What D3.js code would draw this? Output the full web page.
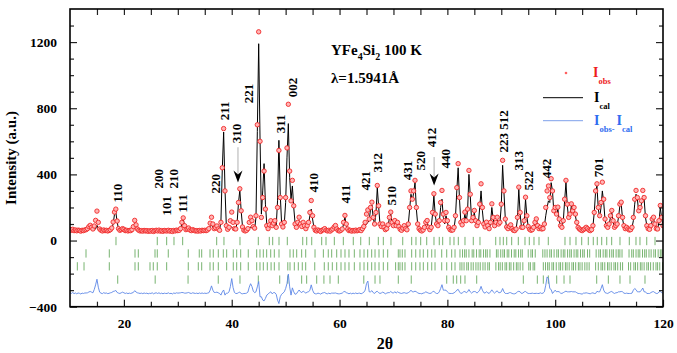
<!DOCTYPE html>
<html><head><meta charset="utf-8">
<script src="https://cdn.jsdelivr.net/npm/d3@7/dist/d3.min.js"></script>
<style>
html,body{margin:0;padding:0;background:#fff;}
svg{display:block;font-family:"Liberation Serif","Times New Roman",serif;font-weight:bold;}
</style></head><body>
<svg id="chart" width="677" height="353"></svg>
<script>
// ---- scan: start / step (2theta, degrees) and intensities ----
const scanStart = 10, scanStep = 0.25;
const iObs = [
 66,62,68,60,64,59,63,61,57,62,60,64,66,72,84,92,80,70,88,122,
 178,110,70,62,58,64,60,62,58,61,66,76,112,172,190,118,72,62,66,72,
 68,60,62,58,61,60,66,84,122,95,70,62,58,60,57,61,58,60,56,59,
 57,61,55,59,62,58,63,57,60,56,61,59,58,62,57,60,55,61,58,63,
 60,62,72,110,137,90,66,70,76,64,60,66,62,58,60,57,61,58,62,60,
 62,60,64,72,105,141,100,72,78,88,70,62,110,440,677,300,90,68,80,120,
 172,110,72,70,110,230,313,180,82,62,58,62,72,110,141,120,84,75,150,700,
 1262,600,140,260,420,190,90,72,95,120,90,105,120,80,200,545,260,100,82,110,
 260,560,824,420,240,364,210,100,80,110,141,100,85,110,90,72,90,110,170,242,
 150,80,62,58,64,60,55,62,66,72,62,58,62,57,64,70,82,91,70,60,
 58,62,70,110,152,100,70,60,62,57,61,58,63,59,62,66,60,72,85,110,
 160,185,130,200,232,140,100,170,333,210,100,85,100,80,66,72,95,140,172,110,
 90,121,90,110,85,68,62,75,90,72,65,100,200,300,250,300,364,200,100,72,
 62,58,64,80,110,121,80,66,80,170,283,160,100,90,120,230,303,160,120,170,
 120,80,66,62,64,80,150,320,465,260,110,95,120,172,120,190,424,280,120,140,
 182,120,90,110,220,343,200,100,82,111,90,72,110,222,140,90,110,141,100,110,
 220,485,300,130,82,72,85,95,72,62,60,70,140,323,170,80,80,120,262,150,
 85,68,62,66,80,110,131,90,72,80,70,72,100,200,300,330,260,374,300,180,
 200,160,202,130,90,80,120,250,364,220,140,160,222,180,200,160,110,80,70,64,
 60,66,72,80,72,64,60,66,90,170,300,343,200,150,230,353,250,130,90,80,
 100,150,182,120,80,90,100,150,220,232,140,90,72,80,70,64,66,80,140,250,
 303,260,180,200,240,303,260,150,90,72,68,90,130,141,100,72,70,120,212,140,
 90
];
const iCal = [
 62,62,62,61,61,61,60,60,60,60,60,61,63,68,75,80,72,66,64,70,
 92,72,62,60,59,59,59,59,59,60,62,70,100,158,172,112,70,62,62,64,
 64,60,59,59,59,60,63,78,105,86,66,60,58,58,58,58,58,58,58,58,
 57,57,57,57,58,58,59,58,58,58,59,59,58,58,58,59,58,58,58,59,
 58,59,68,104,132,88,64,66,70,62,60,62,60,58,58,58,58,58,59,60,
 60,60,62,68,85,95,80,66,72,80,66,62,120,430,656,310,88,66,70,78,
 82,74,66,70,110,225,305,180,84,62,58,60,64,72,82,78,70,70,140,660,
 1190,620,160,300,465,220,100,76,90,110,92,100,115,85,240,606,280,105,80,100,
 230,500,707,380,250,330,200,105,82,100,120,90,80,95,82,70,82,100,150,190,
 130,78,64,60,62,60,59,60,62,66,62,60,60,59,62,68,80,88,70,62,
 60,62,68,100,140,95,68,62,60,59,59,59,60,60,61,64,62,70,78,90,
 100,110,120,190,215,135,100,160,320,205,100,82,92,76,68,70,90,135,160,105,
 88,110,88,100,80,66,62,72,85,70,64,95,190,280,240,290,350,190,96,72,
 62,60,62,76,100,115,78,66,78,160,270,155,100,90,110,200,250,140,100,150,
 110,78,66,62,64,76,140,300,440,250,110,92,110,160,115,180,400,270,118,130,
 170,110,88,100,200,300,180,95,80,100,86,72,100,200,130,88,100,125,95,105,
 210,455,290,130,82,72,80,90,72,64,62,68,130,310,160,80,78,110,250,145,
 85,68,62,64,80,110,130,90,72,76,70,70,90,150,200,240,230,350,300,170,
 180,150,190,120,88,80,115,240,350,210,130,150,210,170,190,150,105,80,70,66,
 64,64,70,76,70,64,62,64,86,170,300,330,190,140,200,300,230,125,88,80,
 95,140,170,115,80,86,95,140,210,220,130,88,72,78,70,64,66,78,120,220,
 280,250,170,190,220,270,250,140,90,72,68,85,120,130,95,72,70,110,200,135,
 88
];
const diffOffset = -320;

// ---- Bragg reflection positions (2theta) for the four rows ----
const braggRow1 = [18.53,26.19,27.93,29.29,30.90,37.21,38.56,41.53,44.93,46.97,47.60,48.77,50.31,53.17,53.91,54.84,56.69,57.49,59.03,60.70,62.55,63.93,65.52,67.19,68.12,69.54,71.72,73.38,74.18,75.05,76.17,77.52,78.50,79.13,80.49,81.23,82.03,83.27,84.81,86.05,88.97,89.76,90.38,91.01,91.93,93.16,94.40,95.20,96.07,97.00,98.72,101.82,102.75,103.86,104.92,106.14,107.07,107.81,108.63,109.56,110.48,112.02,113.75,114.99,115.73,116.98,118.52];
const braggRow2 = [12.97,17.29,22.06,22.67,25.77,26.19,28.23,31.94,33.98,34.43,35.97,36.58,37.51,38.44,39.06,40.29,40.92,41.66,43.07,44.63,45.24,45.86,46.48,47.23,47.90,48.77,50.81,51.42,52.05,52.97,53.72,55.45,57.00,57.91,58.54,59.47,60.27,61.01,61.75,62.74,63.79,64.54,65.22,65.96,66.58,67.32,68.12,68.93,70.90,71.21,71.64,72.14,73.38,74.13,74.92,75.54,76.35,77.10,77.71,78.95,79.88,80.80,81.42,82.34,82.8,83.2,83.5,84.0,84.6,84.9,85.4,85.9,86.2,86.7,87.1,87.4,87.9,89.1,89.4,89.9,90.3,90.6,91.1,91.4,91.9,92.4,92.7,93.2,93.6,93.9,95.0,95.5,95.8,96.3,97.7,98.1,98.5,99.0,99.3,99.8,100.3,100.6,101.1,101.5,101.8,102.3,102.7,103.0,103.5,103.9,104.2,104.7,105.1,105.4,106.0,106.4,107.6,108.1,108.4,108.9,109.3,109.6,110.1,110.5,110.8,111.3,111.7,112.0,112.4,113.7,114.2,114.5,115.0,115.4,115.7,116.2,116.6,116.9,117.4,117.8,118.3,118.6,119.1,119.5,119.8];
const braggRow3 = [11.36,12.60,17.29,22.06,22.67,24.84,25.45,26.19,27.93,31.94,33.80,34.43,35.97,36.58,37.51,39.06,40.29,40.92,41.66,43.07,44.63,45.24,45.86,46.60,47.30,47.90,48.77,50.40,50.81,51.61,52.35,53.09,53.72,55.40,57.17,57.91,58.66,59.47,60.27,61.01,61.75,62.74,63.79,64.54,65.22,65.96,66.58,67.32,68.12,68.93,70.40,70.90,71.21,71.64,72.14,73.38,74.13,74.92,75.54,76.35,77.10,77.71,78.95,79.88,80.80,81.42,82.34,82.7,83.1,83.6,83.9,84.4,84.8,85.3,85.7,86.1,86.6,87.0,87.5,87.8,89.0,89.5,89.8,90.2,90.7,91.0,91.5,91.8,92.3,92.8,93.1,93.5,94.0,95.1,95.4,95.9,96.2,97.8,98.2,98.6,98.9,99.4,99.7,100.2,100.7,101.0,101.4,101.9,102.2,102.6,103.1,103.4,103.8,104.3,104.6,105.0,105.5,105.9,106.3,107.5,108.0,108.5,108.8,109.2,109.7,110.0,110.4,110.9,111.2,111.6,112.1,112.5,113.6,114.0,114.6,114.9,115.3,115.8,116.1,116.5,117.0,117.3,117.7,118.2,118.7,119.0,119.4,119.9];
const braggRow4 = [18.85,25.80,31.90,37.50,41.53,44.93,48.90,50.40,52.97,53.90,55.76,57.10,58.23,59.77,64.50,66.58,67.50,70.90,73.30,79.88,81.10,81.73,82.47,83.27,85.44,94.09,96.69,97.80,98.73,100.28,101.64,102.75,107.70,109.86,112.02,113.88,116.66];
const braggRows = [braggRow1, braggRow2, braggRow3, braggRow4];
const braggRowLevel = [-3, -78, -156, -236];

// ---- reflection labels: text, 2theta, intensity at the start of the text ----
const hklText  = ["110","200","210","101","111","220","211","310","221","311","002","410","411","421","312","510","431","520","412","440","223 512","313","522","442","701"];
const hklTheta = [18.81,26.38,29.16,27.94,30.90,36.90,38.57,40.92,43.07,48.95,51.31,55.13,61.14,64.72,67.08,69.67,72.57,74.92,77.09,79.56,90.38,93.16,95.01,98.43,108.0];
const hklBase  = [230,315,315,152,170,285,727,588,830,648,867,291,224,303,412,212,364,424,564,436,533,424,303,376,382];

// ---- arrows marking peaks ----
const arrowTheta = [41.16, 77.54];
const arrowTip   = [351, 333];
const arrowTop   = [564, 505];

const xMajor = [20,40,60,80,100,120];
const yMajor = [-400,0,400,800,1200];

// ---------------------------------------------------------------
const svg = d3.select("#chart");
const x = d3.scaleLinear().domain([10,120]).range([70,663]);
const y = d3.scaleLinear().domain([-400,1400]).range([306.7,9]);
const twoTheta = iObs.map((_, i) => scanStart + i * scanStep);
const idx = d3.range(iObs.length);

svg.append("defs").append("clipPath").attr("id","plotclip")
  .append("rect").attr("x",70).attr("y",9).attr("width",593).attr("height",297.7);
const plot = svg.append("g").attr("clip-path","url(#plotclip)");

// Bragg ticks
braggRows.forEach((row, r) => {
  plot.append("g").selectAll("line").data(row).join("line")
    .attr("x1", d => x(d)).attr("x2", d => x(d))
    .attr("y1", y(braggRowLevel[r] + 25)).attr("y2", y(braggRowLevel[r] - 25))
    .attr("stroke", "#4f9d45").attr("stroke-width", 0.9).attr("opacity", 0.85);
});

// difference curve
plot.append("path").datum(idx)
  .attr("d", d3.line().x(i => x(twoTheta[i])).y(i => y(iObs[i] - iCal[i] + diffOffset)))
  .attr("fill","none").attr("stroke","#5b86e6").attr("stroke-width",0.9);

// calculated
plot.append("path").datum(idx)
  .attr("d", d3.line().x(i => x(twoTheta[i])).y(i => y(iCal[i])))
  .attr("fill","none").attr("stroke","#000").attr("stroke-width",1);

// observed
plot.append("g").selectAll("circle").data(idx).join("circle")
  .attr("cx", i => x(twoTheta[i])).attr("cy", i => y(iObs[i])).attr("r", 2.2)
  .attr("fill", "#ffb4b4").attr("stroke", "#f02828").attr("stroke-width", 0.9);

// axes
const fontAxis = 13.5;
const gL = svg.append("g").attr("transform","translate(70,0)");
gL.call(d3.axisLeft(y).tickValues(yMajor).tickSize(-7).tickPadding(13).tickFormat(d3.format("d")));
const gLm = svg.append("g").attr("transform","translate(70,0)");
gLm.call(d3.axisLeft(y).tickValues(d3.range(-300,1400,100).filter(v => v % 400 !== 0)).tickSize(-4).tickFormat(""));
const gR = svg.append("g").attr("transform","translate(663,0)");
gR.call(d3.axisRight(y).tickValues(yMajor).tickSize(-7).tickFormat(""));
const gRm = svg.append("g").attr("transform","translate(663,0)");
gRm.call(d3.axisRight(y).tickValues(d3.range(-300,1400,100).filter(v => v % 400 !== 0)).tickSize(-4).tickFormat(""));
const gB = svg.append("g").attr("transform","translate(0,306.7)");
gB.call(d3.axisBottom(x).tickValues(xMajor).tickSize(-7).tickPadding(12).tickFormat(d3.format("d")));
const gBm = svg.append("g").attr("transform","translate(0,306.7)");
gBm.call(d3.axisBottom(x).tickValues(d3.range(15,120,5).filter(v => v % 20 !== 0)).tickSize(-5).tickFormat(""));
const gT = svg.append("g").attr("transform","translate(0,9)");
gT.call(d3.axisTop(x).tickValues(d3.range(15,120,5)).tickSize(-6).tickFormat(""));
[gL,gLm,gR,gRm,gB,gBm,gT].forEach(g => {
  g.select(".domain").remove();
  g.selectAll(".tick line").attr("stroke","#222").attr("stroke-width",1.2);
  g.selectAll("text").attr("font-family",'"Liberation Serif","Times New Roman",serif')
    .attr("font-weight","bold").attr("font-size",fontAxis).attr("fill","#000");
});
svg.append("rect").attr("x",70).attr("y",9).attr("width",593).attr("height",297.7)
  .attr("fill","none").attr("stroke","#000").attr("stroke-width",1.6);

// axis titles
svg.append("text").attr("transform","translate(16,158) rotate(-90)")
  .attr("text-anchor","middle").attr("font-size",15).text("Intensity (a.u.)");
svg.append("text").attr("x",385).attr("y",348.5).attr("text-anchor","middle")
  .attr("font-size",16).text("2θ");

// reflection labels
svg.append("g").selectAll("text").data(hklText).join("text")
  .attr("transform", (d,i) => `translate(${x(hklTheta[i])},${y(hklBase[i])}) rotate(-90)`)
  .attr("dy","0.35em").attr("font-size",13).attr("text-anchor","start").text(d => d);

// arrows
arrowTheta.forEach((t,i) => {
  const ax = x(t), tip = y(arrowTip[i]), top = y(arrowTop[i]);
  svg.append("line").attr("x1",ax).attr("x2",ax).attr("y1",top).attr("y2",tip-8)
    .attr("stroke","#9a9a9a").attr("stroke-width",0.8);
  svg.append("path")
    .attr("d",`M${ax},${tip} L${ax-4.5},${tip-12} L${ax},${tip-8} L${ax+4.5},${tip-12} Z`)
    .attr("fill","#000");
});

// sample annotation
const t1 = svg.append("text").attr("x",331).attr("y",55).attr("font-size",15);
t1.append("tspan").text("YFe");
t1.append("tspan").attr("dy",5).attr("font-size",10).text("4");
t1.append("tspan").attr("dy",-5).text("Si");
t1.append("tspan").attr("dy",5).attr("font-size",10).text("2");
t1.append("tspan").attr("dy",-5).text(" 100 K");
svg.append("text").attr("x",331).attr("y",83).attr("font-size",15).text("λ=1.5941Å");

// legend
svg.append("circle").attr("cx",566).attr("cy",73).attr("r",1.3).attr("fill","#ff6060");
const l1 = svg.append("text").attr("x",593).attr("y",77).attr("font-size",14).attr("fill","#ee1c1c");
l1.append("tspan").text("I");
l1.append("tspan").attr("dy",7).attr("font-size",8.5).text("obs");
svg.append("line").attr("x1",543).attr("x2",583).attr("y1",97.7).attr("y2",97.7)
  .attr("stroke","#000").attr("stroke-width",1);
const l2 = svg.append("text").attr("x",594).attr("y",102).attr("font-size",14).attr("fill","#000");
l2.append("tspan").text("I");
l2.append("tspan").attr("dy",7).attr("font-size",8.5).text("cal");
svg.append("line").attr("x1",543).attr("x2",583).attr("y1",120.7).attr("y2",120.7)
  .attr("stroke","#7ea0ea").attr("stroke-width",1);
const l3 = svg.append("text").attr("x",594).attr("y",125).attr("font-size",14).attr("fill","#2f6cf0");
l3.append("tspan").text("I");
l3.append("tspan").attr("dy",7).attr("font-size",8.5).text("obs-");
l3.append("tspan").attr("dy",-7).attr("dx",2).text("I");
l3.append("tspan").attr("dy",7).attr("font-size",8.5).text("cal");
</script>
</body></html>
